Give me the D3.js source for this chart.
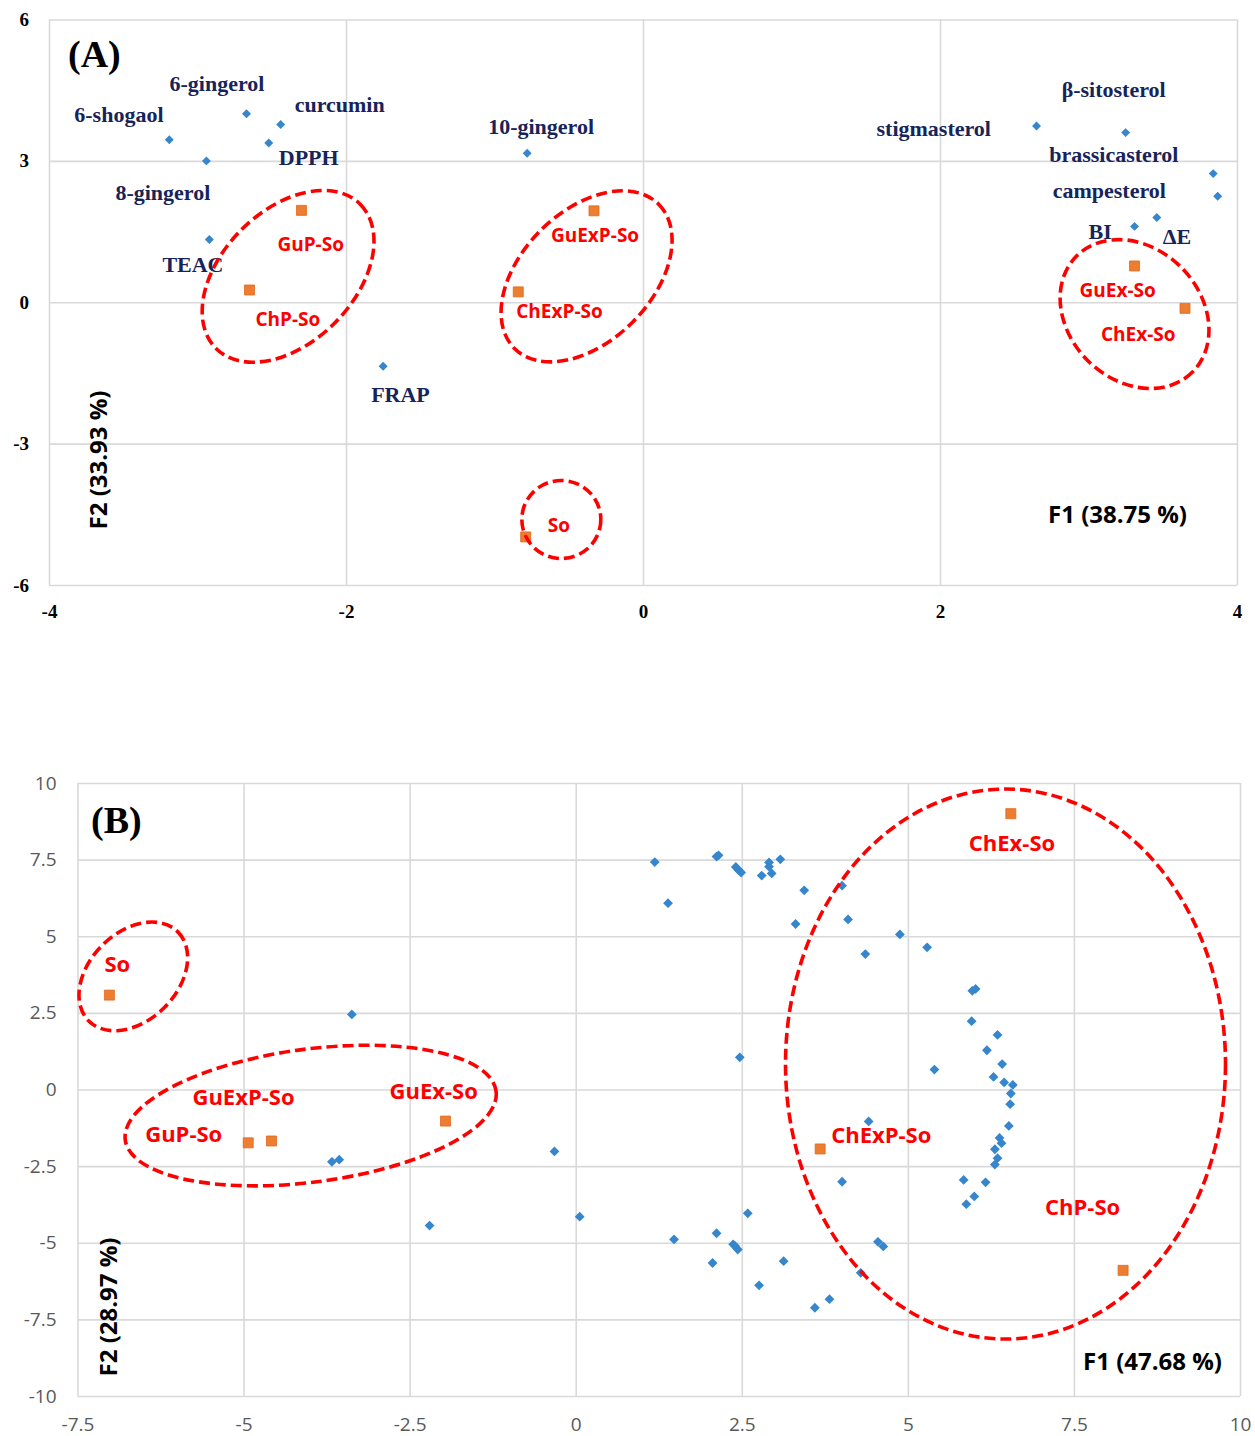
<!DOCTYPE html>
<html>
<head>
<meta charset="utf-8">
<script src="https://cdn.jsdelivr.net/npm/d3@7"></script>
<style>
  body { margin: 0; background: #fff; }
  svg { display: block; }
</style>
</head>
<body>
<script>
// ---------- panel A data ----------
var varNamesA = ['6-shogaol', '8-gingerol', '6-gingerol', 'curcumin', 'DPPH', 'TEAC', 'FRAP',
  '10-gingerol', 'stigmasterol', 'β-sitosterol', 'brassicasterol', 'campesterol', 'ΔE', 'BI']
var varF1A = [-3.19, -2.94, -2.67, -2.44, -2.52, -2.92, -1.75, -0.78, 2.65, 3.25, 3.84, 3.87, 3.46, 3.31]
var varF2A = [3.45, 3.00, 4.00, 3.77, 3.38, 1.33, -1.36, 3.16, 3.74, 3.60, 2.73, 2.25, 1.80, 1.61]

var obsNamesA = ['GuP-So', 'ChP-So', 'GuExP-So', 'ChExP-So', 'GuEx-So', 'ChEx-So', 'So']
var obsF1A = [-2.30, -2.65, -0.33, -0.84, 3.31, 3.65, -0.79]
var obsF2A = [1.95, 0.26, 1.94, 0.22, 0.77, -0.13, -4.98]

var ticksXA = [-4, -2, 0, 2, 4]
var ticksYA = [-6, -3, 0, 3, 6]

// ---------- panel B data ----------
var obsNamesB = ['So', 'GuP-So', 'GuExP-So', 'GuEx-So', 'ChEx-So', 'ChExP-So', 'ChP-So']
var obsF1B = [-7.02, -4.93, -4.58, -1.96, 6.55, 3.68, 8.24]
var obsF2B = [3.08, -1.74, -1.68, -1.03, 9.00, -1.94, -5.90]

var varF1B = [-3.37, -3.67, -3.56, -0.32, 0.06, -2.20, 1.19, 1.39, 2.12, 2.15, 2.41, 2.45, 2.49, 2.80,
  2.91, 2.91, 2.95, 3.08, 3.44, 3.31, 4.01, 4.10, 4.36, 2.47, 4.88, 5.29, 5.97, 6.02, 5.96, 6.35,
  6.19, 5.40, 6.42, 6.29, 6.45, 6.58, 6.55, 6.54, 6.52, 6.38, 6.41, 6.31, 6.35, 6.31, 5.84, 6.17,
  6.00, 5.88, 4.41, 4.01, 2.59, 1.48, 2.12, 2.37, 2.40, 2.44, 2.06, 3.13, 2.76, 3.60, 3.82, 4.29,
  4.55, 4.63]
var varF2B = [2.45, -2.36, -2.29, -2.02, -4.15, -4.44, 7.42, 6.08, 7.60, 7.64, 7.26, 7.16, 7.08, 6.98,
  7.41, 7.27, 7.05, 7.51, 6.50, 5.40, 6.65, 5.55, 4.42, 1.05, 5.06, 4.64, 3.22, 3.28, 2.23, 1.78,
  1.28, 0.65, 0.83, 0.41, 0.23, 0.15, -0.13, -0.48, -1.19, -1.58, -1.75, -1.95, -2.24, -2.45, -2.95, -3.03,
  -3.49, -3.74, -1.04, -3.01, -4.04, -4.89, -4.69, -5.05, -5.11, -5.22, -5.66, -5.60, -6.39, -7.12, -6.84, -5.98,
  -4.97, -5.12]

var ticksXB = [-7.5, -5, -2.5, 0, 2.5, 5, 7.5, 10]
var ticksYB = [-10, -7.5, -5, -2.5, 0, 2.5, 5, 7.5, 10]

// ---------- layout (label offsets in px from their point, group ellipses) ----------
var varLabelOffA = [[-95, -18], [-91, 39], [-77, -23], [14, -13], [10, 22], [-47, 32], [-12, 36],
  [-39, -19], [-160, 10], [-64, -36], [-164, -12], [-165, 2], [6, 27], [-46, 13]]
var obsLabelOffA = [[-24, 41], [6, 36], [-43, 31], [-2, 26], [-55, 31], [-84, 33], [22, -5]]
var obsLabelOffB = [[-5, -23], [-103, -1], [-79, -36], [-56, -22], [-42, 37], [11, -6], [-78, -55]]

// [centre F1, centre F2, rx px, ry px, rotation deg]
var groupsA = [[-2.39, 0.55, 102, 66, -45], [-0.38, 0.55, 102, 65, -45], [3.31, -0.25, 82, 66, 45], [-0.55, -4.61, 39.5, 39, 0]]
var groupsB = [[-6.66, 3.69, 63, 44, -45], [-3.99, -0.85, 187, 66.5, -7.5], [6.47, 0.83, 220, 275, 0]]

var BLUE = '#3586cc'
var ORANGE = '#ED7D31'
var RED = '#ff0000'
var NAVY = '#17245a'
var SANS = "'Open Sans', 'Noto Sans', sans-serif"
var SERIF = "'Liberation Serif', 'DejaVu Serif', serif"

var svg = d3.select('body').append('svg')
  .attr('width', 1255)
  .attr('height', 1436)

function drawPanel(opt) {
  var g = svg.append('g')
  var x = d3.scaleLinear().domain(opt.xDomain).range(opt.xRange)
  var y = d3.scaleLinear().domain(opt.yDomain).range(opt.yRange)
  var w = opt.xRange[1] - opt.xRange[0]
  var h = opt.yRange[0] - opt.yRange[1]

  var xAxis = g.append('g')
    .attr('transform', 'translate(0,' + opt.yRange[0] + ')')
    .call(d3.axisBottom(x).tickValues(opt.ticksX).tickSize(-h).tickPadding(opt.padX)
      .tickFormat(function(d) { return String(d) }))
  var yAxis = g.append('g')
    .attr('transform', 'translate(' + opt.xRange[0] + ',0)')
    .call(d3.axisLeft(y).tickValues(opt.ticksY).tickSize(-w).tickPadding(opt.padY)
      .tickFormat(function(d) { return String(d) }))

  ;[xAxis, yAxis].forEach(function(a) {
    a.select('.domain').remove()
    a.selectAll('line').attr('stroke', '#d9d9d9').attr('stroke-width', 1.6)
    a.selectAll('text')
      .attr('fill', opt.tickColor)
      .style('font-family', opt.tickFont)
      .style('font-size', opt.tickSize + 'px')
      .style('font-weight', opt.tickWeight)
  })

  // variables (blue diamonds)
  var diamond = d3.symbol().type(d3.symbolSquare).size(opt.diamondSize)
  g.append('g').selectAll('path')
    .data(opt.varF1.map(function(v, i) { return [v, opt.varF2[i]] }))
    .join('path')
    .attr('d', diamond)
    .attr('transform', function(d) { return 'translate(' + x(d[0]) + ',' + y(d[1]) + ') rotate(45)' })
    .attr('fill', BLUE)

  if (opt.varNames) {
    g.append('g').selectAll('text')
      .data(opt.varNames)
      .join('text')
      .attr('x', function(d, i) { return x(opt.varF1[i]) + opt.varOff[i][0] })
      .attr('y', function(d, i) { return y(opt.varF2[i]) + opt.varOff[i][1] })
      .attr('fill', NAVY)
      .style('font-family', SERIF)
      .style('font-weight', 'bold')
      .style('font-size', '22px')
      .text(function(d) { return d })
  }

  // observations (orange squares)
  var square = d3.symbol().type(d3.symbolSquare).size(100)
  g.append('g').selectAll('path')
    .data(opt.obsF1.map(function(v, i) { return [v, opt.obsF2[i]] }))
    .join('path')
    .attr('d', square)
    .attr('transform', function(d) { return 'translate(' + x(d[0]) + ',' + y(d[1]) + ')' })
    .attr('fill', ORANGE)
    .attr('stroke', '#e0691c')
    .attr('stroke-width', 0.8)

  g.append('g').selectAll('text')
    .data(opt.obsNames)
    .join('text')
    .attr('x', function(d, i) { return x(opt.obsF1[i]) + opt.obsOff[i][0] })
    .attr('y', function(d, i) { return y(opt.obsF2[i]) + opt.obsOff[i][1] })
    .attr('fill', RED)
    .style('font-family', SANS)
    .style('font-weight', 'bold')
    .style('font-size', opt.obsFont + 'px')
    .text(function(d) { return d })

  // group ellipses
  g.append('g').selectAll('ellipse')
    .data(opt.groups)
    .join('ellipse')
    .attr('transform', function(d) { return 'translate(' + x(d[0]) + ',' + y(d[1]) + ') rotate(' + d[4] + ')' })
    .attr('rx', function(d) { return d[2] })
    .attr('ry', function(d) { return d[3] })
    .attr('fill', 'none')
    .attr('stroke', RED)
    .attr('stroke-width', 3.6)
    .attr('stroke-dasharray', '11,5')

  // panel letter
  g.append('text')
    .attr('x', opt.letterPos[0]).attr('y', opt.letterPos[1])
    .style('font-family', SERIF).style('font-weight', 'bold').style('font-size', '38px')
    .attr('fill', '#000')
    .text(opt.letter)

  // axis titles
  g.append('text')
    .attr('x', opt.f1Pos[0]).attr('y', opt.f1Pos[1])
    .attr('text-anchor', 'end')
    .style('font-family', SANS).style('font-weight', 'bold').style('font-size', '24px')
    .attr('fill', '#000')
    .text(opt.f1Title)

  g.append('text')
    .attr('transform', 'translate(' + opt.f2Pos[0] + ',' + opt.f2Pos[1] + ') rotate(-90)')
    .attr('text-anchor', 'middle')
    .style('font-family', SANS).style('font-weight', 'bold').style('font-size', '24px')
    .attr('fill', '#000')
    .text(opt.f2Title)
}

drawPanel({
  xDomain: [-4, 4], xRange: [49, 1237],
  yDomain: [-6, 6], yRange: [585, 19.5],
  ticksX: ticksXA, ticksY: ticksYA,
  padX: 20, padY: 20,
  tickColor: '#000', tickFont: SERIF, tickSize: 19, tickWeight: 'bold',
  diamondSize: 40,
  varNames: varNamesA, varF1: varF1A, varF2: varF2A, varOff: varLabelOffA,
  obsNames: obsNamesA, obsF1: obsF1A, obsF2: obsF2A, obsOff: obsLabelOffA, obsFont: 19,
  groups: groupsA,
  letter: '(A)', letterPos: [68, 67],
  f1Title: 'F1 (38.75 %)', f1Pos: [1187, 523],
  f2Title: 'F2 (33.93 %)', f2Pos: [107, 460]
})

drawPanel({
  xDomain: [-7.5, 10], xRange: [77.5, 1240],
  yDomain: [-10, 10], yRange: [1396, 783],
  ticksX: ticksXB, ticksY: ticksYB,
  padX: 22, padY: 21,
  tickColor: '#595959', tickFont: SANS, tickSize: 19, tickWeight: 'normal',
  diamondSize: 48,
  varNames: null, varF1: varF1B, varF2: varF2B,
  obsNames: obsNamesB, obsF1: obsF1B, obsF2: obsF2B, obsOff: obsLabelOffB, obsFont: 22,
  groups: groupsB,
  letter: '(B)', letterPos: [91, 833],
  f1Title: 'F1 (47.68 %)', f1Pos: [1222, 1370],
  f2Title: 'F2 (28.97 %)', f2Pos: [117, 1307]
})
</script>
</body>
</html>
